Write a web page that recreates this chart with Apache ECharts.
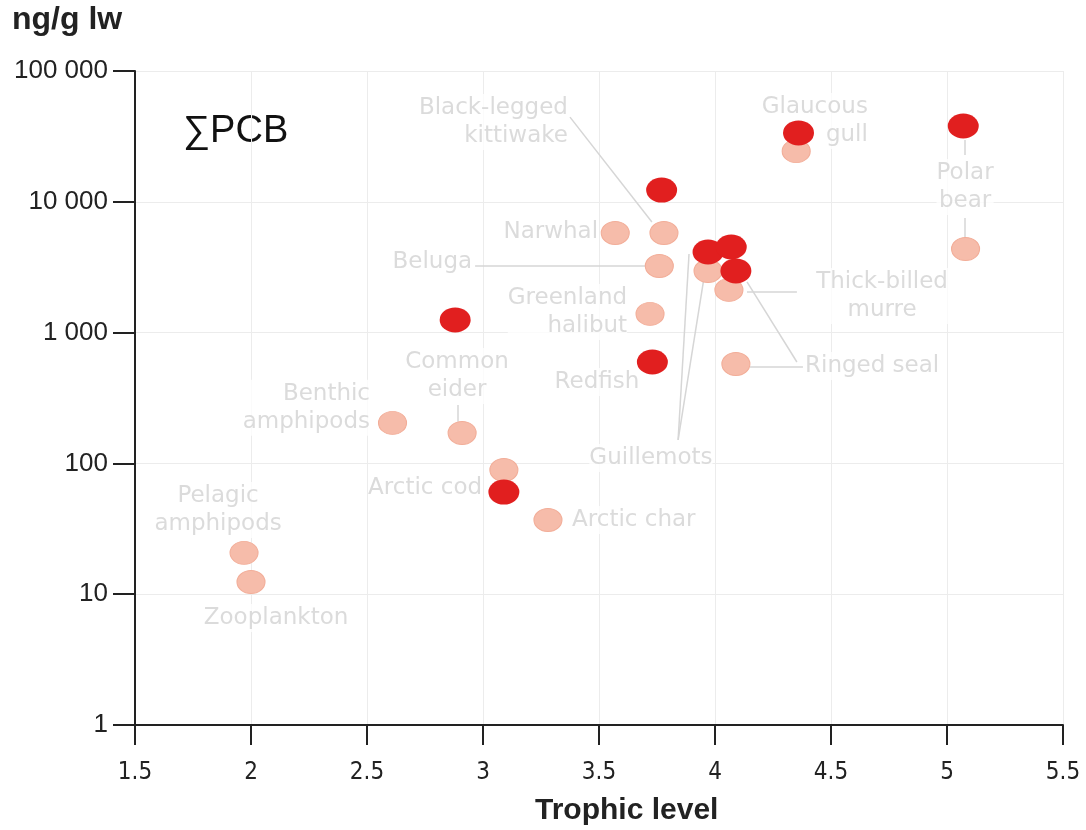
<!DOCTYPE html>
<html>
<head>
<meta charset="utf-8">
<script src="https://cdn.jsdelivr.net/npm/echarts@6/dist/echarts.min.js"></script>
<style>
html,body{margin:0;padding:0;background:#fff;}
#chart{width:1086px;height:830px;}
</style>
</head>
<body>
<div id="chart"></div>
<script>
// ---- data ----
const xTicks = [1.5, 2, 2.5, 3, 3.5, 4, 4.5, 5, 5.5];
const yTickValues = [1, 10, 100, 1000, 10000, 100000];
const yTickLabels = ['1', '10', '100', '1 000', '10 000', '100 000'];

// pale (light pink) points: trophic level, ng/g lw
const paleTrophic = [1.97, 2.00, 2.61, 2.91, 3.09, 3.28, 3.57, 3.78, 3.76, 3.72, 3.97, 4.06, 4.09, 4.35, 5.08];
const palePCB     = [20.7, 12.4, 204, 171, 89, 36.9, 5770, 5770, 3230, 1390, 2960, 2120, 575, 24400, 4360];

// red points
const redTrophic = [2.88, 3.09, 3.73, 3.77, 3.97, 4.07, 4.09, 4.36, 5.07];
const redPCB     = [1250, 60.4, 596, 12300, 4130, 4510, 2960, 33600, 38000];

// species labels
const speciesNames = [
  'Black-legged\nkittiwake', 'Glaucous\ngull', 'Polar\nbear', 'Narwhal', 'Beluga',
  'Greenland\nhalibut', 'Redfish', 'Common\neider', 'Benthic\namphipods', 'Arctic cod',
  'Arctic char', 'Pelagic\namphipods', 'Zooplankton', 'Guillemots', 'Thick-billed\nmurre', 'Ringed seal'
];

// ---- annotation placement (data coordinates) ----
const labelAnchors = [
  [3.366, 40700, 'right'], [4.659, 41500, 'right'], [5.078, 12970, 'center'], [3.496, 5880, 'right'],
  [2.953, 3470, 'right'], [3.621, 1436, 'right'], [3.491, 419, 'center'], [2.888, 466, 'center'],
  [2.513, 266, 'right'], [2.996, 64.9, 'right'], [3.384, 36.9, 'left'], [1.858, 44.1, 'center'],
  [2.108, 6.58, 'center'], [3.724, 110, 'center'], [4.72, 1905, 'center'], [4.388, 556, 'left']
];
const leaderLines = [
  [[3.375, 44400], [3.728, 7010]],
  [[2.966, 3230], [3.707, 3230]],
  [[5.078, 29700], [5.078, 22800]],
  [[5.078, 7520], [5.078, 5290]],
  [[2.892, 280], [2.892, 208]],
  [[3.841, 151], [3.888, 3990]],
  [[3.841, 151], [3.953, 2660]],
  [[4.138, 2040], [4.353, 2040]],
  [[4.151, 546], [4.379, 546]],
  [[4.138, 2440], [4.353, 596]]
];

const chart = echarts.init(document.getElementById('chart'), null, {renderer: 'canvas'});

const labelColor = '#d2d2d2';
const option = {
  animation: false,
  backgroundColor: '#ffffff',
  grid: {left: 135, right: 23, top: 71, bottom: 105, containLabel: false},
  xAxis: {
    type: 'value', min: 1.5, max: 5.5, interval: 0.5,
    axisLine: {show: true, onZero: false, lineStyle: {color: '#222', width: 2}},
    axisTick: {show: true, inside: false, length: 20, lineStyle: {color: '#222', width: 2}},
    axisLabel: {
      margin: 36, color: '#222', fontSize: 24, fontFamily: 'Liberation Sans Narrow, DejaVu Sans Condensed, sans-serif',
      formatter: v => { const t = xTicks.find(k => Math.abs(k - v) < 1e-6); return t === undefined ? '' : String(t); }
    },
    splitLine: {show: true, lineStyle: {color: '#ececec', width: 1}}
  },
  yAxis: {
    type: 'log', logBase: 10, min: 1, max: 100000,
    axisLine: {show: true, lineStyle: {color: '#222', width: 2}},
    axisTick: {show: true, inside: false, length: 22, lineStyle: {color: '#222', width: 2}},
    axisLabel: {
      margin: 27, color: '#222', fontSize: 26, fontFamily: 'Liberation Sans, Arial, sans-serif',
      formatter: v => { const i = yTickValues.findIndex(k => Math.abs(k - v) / k < 1e-6); return i < 0 ? '' : yTickLabels[i]; }
    },
    minorTick: {show: false},
    splitLine: {show: true, lineStyle: {color: '#ececec', width: 1}}
  },
  graphic: [
    {type: 'text', left: 12, top: 4, style: {text: 'ng/g lw', fontSize: 32, fontWeight: 'bold', fill: '#222', fontFamily: 'Liberation Sans, Arial, sans-serif'}},
    {type: 'text', left: 183, top: 113, style: {text: '∑PCB', fontSize: 38, fill: '#111', fontFamily: 'Liberation Sans, DejaVu Sans, sans-serif'}},
    {type: 'text', left: 535, top: 796, style: {text: 'Trophic level', fontSize: 30, fontWeight: 'bold', fill: '#222', fontFamily: 'Liberation Sans Narrow, Liberation Sans, sans-serif'}}
  ],
  series: [
    {
      type: 'lines', coordinateSystem: 'cartesian2d', z: 1, silent: true,
      lineStyle: {color: '#d6d6d6', width: 1.5, opacity: 1},
      data: leaderLines.map(c => ({coords: c}))
    },
    {
      type: 'scatter', z: 2, silent: true, symbolSize: 0,
      data: speciesNames.map((n, i) => ({
        value: [labelAnchors[i][0], labelAnchors[i][1]],
        label: {show: true, position: 'inside', formatter: n, align: labelAnchors[i][2], verticalAlign: 'middle'}
      })),
      label: {color: labelColor, fontSize: 23, lineHeight: 28, fontFamily: 'DejaVu Sans, sans-serif', backgroundColor: '#ffffff'}
    },
    {
      type: 'scatter', z: 3, symbol: 'circle', symbolSize: [28, 23],
      itemStyle: {color: '#f6bcaa', borderColor: '#f2ad98', borderWidth: 1, opacity: 1},
      data: paleTrophic.map((x, i) => [x, palePCB[i]])
    },
    {
      type: 'scatter', z: 4, symbol: 'circle', symbolSize: [31, 25],
      itemStyle: {color: '#e11f1f', opacity: 1},
      data: redTrophic.map((x, i) => [x, redPCB[i]])
    }
  ]
};
chart.setOption(option);
</script>
</body>
</html>
